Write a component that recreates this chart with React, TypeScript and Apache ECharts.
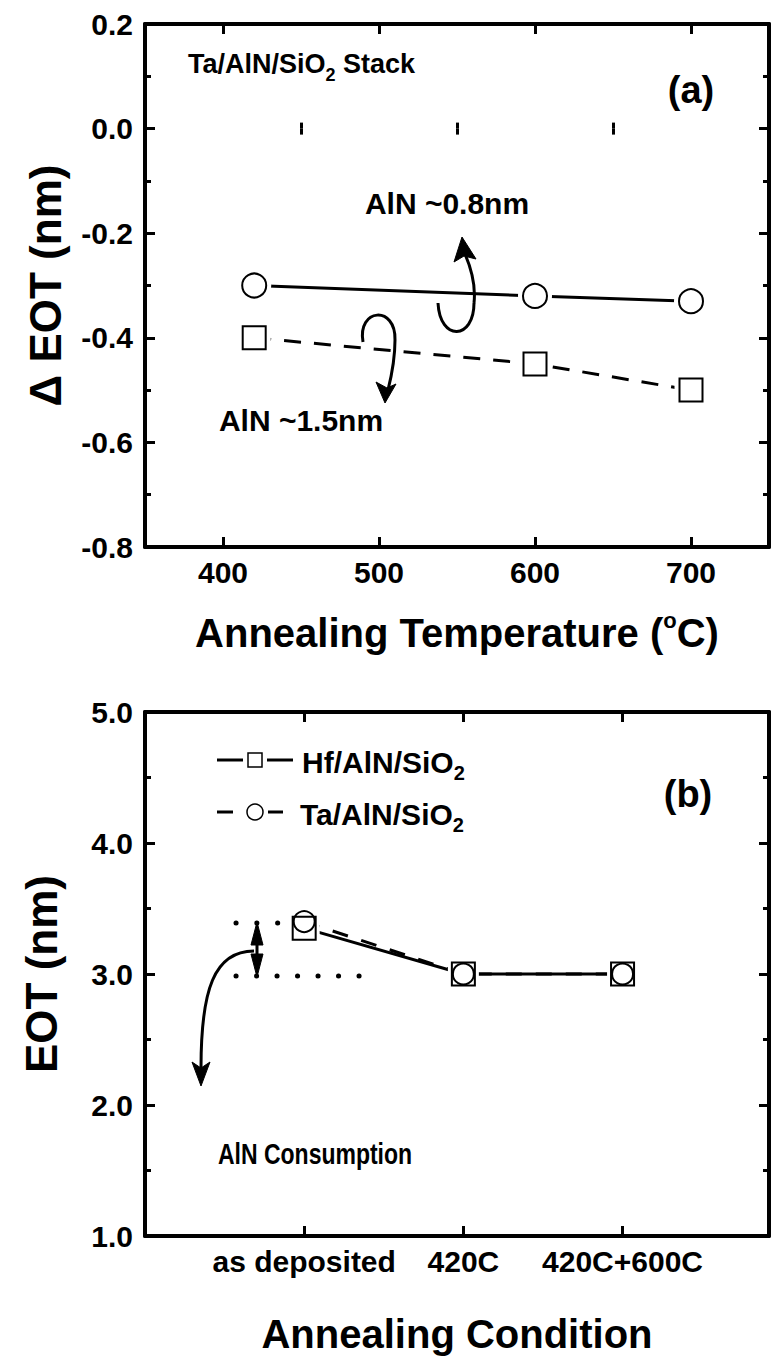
import React, { useEffect, useRef } from 'react';
import * as echarts from 'echarts';

// ---- Panel (a) data ----
const tempA = [420, 600, 700];
const dEot08 = [-0.3, -0.32, -0.33];
const dEot15 = [-0.4, -0.45, -0.5];
const tempMajorTicks = [400, 500, 600, 700];
const tempMinorTicks = [450, 550, 650];

// ---- Panel (b) data ----
const conditions = ['as deposited', '420C', '420C+600C'];
const conditionPos = [1, 2, 3];
const eotHf = [3.35, 3.0, 3.0];
const eotTa = [3.4, 3.0, 3.0];

const FONT = '"Liberation Sans", Arial, Helvetica, sans-serif';
const BLACK = '#000';

const subRich = {
  sub: { fontSize: 19, fontWeight: 'bold', fontFamily: FONT, color: BLACK, verticalAlign: 'bottom', lineHeight: 16 },
  sup: { fontSize: 22, fontWeight: 'bold', fontFamily: FONT, color: BLACK, verticalAlign: 'top', lineHeight: 18 },
};

function txt(text: string, x: number, y: number, size: number, align = 'left', scaleY = 1) {
  return {
    type: 'text',
    x,
    y,
    scaleY,
    z: 50,
    style: {
      text,
      fontSize: size,
      fontWeight: 'bold',
      fontFamily: FONT,
      fill: BLACK,
      lineHeight: size + 12,
      align,
      verticalAlign: 'middle',
      textAlign: align,
      textVerticalAlign: 'middle',
      rich: {
        sub: { ...subRich.sub, fill: BLACK, fontSize: Math.round(size * 0.65) },
      },
    },
  };
}

function curve(x1: number, y1: number, cpx1: number, cpy1: number, cpx2: number, cpy2: number, x2: number, y2: number) {
  return {
    type: 'bezierCurve',
    z: 50,
    shape: { x1, y1, cpx1, cpy1, cpx2, cpy2, x2, y2 },
    style: { stroke: BLACK, lineWidth: 3, fill: 'none' },
  };
}

function head(points: number[][]) {
  return { type: 'polygon', z: 50, shape: { points }, style: { fill: BLACK, stroke: BLACK, lineWidth: 1 } };
}

function seg(x1: number, y1: number, x2: number, y2: number, dash?: number[], w = 3, cap = 'butt') {
  return {
    type: 'line',
    z: 50,
    shape: { x1, y1, x2, y2 },
    style: { stroke: BLACK, lineWidth: w, lineDash: dash, lineCap: cap },
  };
}

const tickLabel = { fontSize: 30, fontWeight: 'bold', color: BLACK, fontFamily: FONT };
const axisLine = { show: true, onZero: false, lineStyle: { color: BLACK, width: 4 } };

function xAxes(gridIndex: number, min: number, max: number, major: number[], minor: number[] | null, labelFmt: any, name: string, nameGap: number) {
  const list: any[] = [
    {
      gridIndex, type: 'value', min, max, position: 'bottom',
      axisLine,
      axisTick: { show: true, inside: true, length: 10, customValues: major, lineStyle: { color: BLACK, width: 3 } },
      axisLabel: { ...tickLabel, margin: 10, customValues: major, formatter: labelFmt },
      splitLine: { show: false },
      name, nameLocation: 'middle', nameGap,
      nameTextStyle: { fontSize: 40, fontWeight: 'bold', color: BLACK, fontFamily: FONT, lineHeight: 48, rich: subRich },
    },
    {
      gridIndex, type: 'value', min, max, position: 'top',
      axisLine,
      axisTick: { show: true, inside: true, length: 10, customValues: major, lineStyle: { color: BLACK, width: 3 } },
      axisLabel: { show: false },
      splitLine: { show: false },
    },
  ];
  if (minor) {
    ['bottom', 'top'].forEach((position) => {
      list.push({
        gridIndex, type: 'value', min, max, position,
        axisLine: { show: false },
        axisTick: { show: true, inside: true, length: 6, customValues: minor, lineStyle: { color: BLACK, width: 3 } },
        axisLabel: { show: false },
        splitLine: { show: false },
      });
    });
  }
  return list;
}

function yAxes(gridIndex: number, min: number, max: number, interval: number, name: string, nameGap: number) {
  const common = {
    gridIndex, type: 'value', min, max, interval,
    axisLine,
    axisTick: { show: true, inside: true, length: 10, lineStyle: { color: BLACK, width: 3 } },
    minorTick: { show: true, splitNumber: 2, length: 6, lineStyle: { color: BLACK, width: 3 } },
    splitLine: { show: false },
    minorSplitLine: { show: false },
  };
  return [
    {
      ...common, position: 'left',
      axisLabel: {
        ...tickLabel, margin: 12,
        formatter: (v: number) => (Math.abs(v) < 1e-9 ? '0.0' : v.toFixed(1)),
      },
      name, nameLocation: 'middle', nameGap, nameRotate: 90,
      nameTextStyle: { fontSize: 44, fontWeight: 'bold', color: BLACK, fontFamily: FONT },
    },
    { ...common, position: 'right', axisLabel: { show: false } },
  ];
}

export default function App() {
  const ref = useRef<HTMLDivElement>(null);

  useEffect(() => {
    if (!ref.current) return;
    const chart = echarts.init(ref.current, null, { renderer: 'svg' });

    const xa = xAxes(0, 350, 750, tempMajorTicks, tempMinorTicks, (v: number) => String(v),
      'Annealing Temperature ({sup|o}C)', 62);
    const xb = xAxes(1, 0, 3.92, conditionPos, null,
      (v: number) => conditions[conditionPos.indexOf(v)] ?? '', 'Annealing Condition', 74);
    const xAxis = [...xa, ...xb];
    const xbIndex = xa.length;

    const yAxis = [
      ...yAxes(0, -0.8, 0.2, 0.2, 'Δ EOT (nm)', 78),
      ...yAxes(1, 1, 5, 1, 'EOT (nm)', 82),
    ];

    const blackLine = { color: BLACK, width: 3 };

    const graphic: any[] = [
      // panel (a) texts
      txt('Ta/AlN/SiO{sub|2} Stack', 188, 64, 27),
      txt('(a)', 691, 90, 38, 'center'),
      txt('AlN ~0.8nm', 447, 203, 30, 'center'),
      txt('AlN ~1.5nm', 301, 420, 30, 'center'),
      // upper curved arrow (0.8nm)
      curve(438, 303, 440, 342, 474, 340, 474, 303),
      curve(474, 303, 476, 285, 471, 268, 465, 254),
      head([[462, 237], [454, 262], [464, 256], [476, 259]]),
      // lower curved arrow (1.5nm)
      curve(363, 342, 357, 308, 396, 305, 395, 340),
      curve(395, 340, 395, 360, 391, 378, 388, 390),
      head([[385, 403], [376, 382], [387, 388], [396, 384]]),

      // panel (b) texts
      txt('(b)', 688, 794, 38, 'center'),
      txt('AlN Consumption', 218, 1154, 23, 'left', 1.3),
      // legend row 1 (Hf, solid, square)
      seg(217, 760, 243, 760),
      {
        type: 'rect', z: 50, shape: { x: 248, y: 753, width: 14, height: 14 },
        style: { fill: '#fff', stroke: BLACK, lineWidth: 1.5 },
      },
      seg(267, 760, 293, 760),
      txt('Hf/AlN/SiO{sub|2}', 302, 762, 30),
      // legend row 2 (Ta, dashed, circle)
      seg(217, 812, 233, 812),
      { type: 'circle', z: 50, shape: { cx: 255, cy: 812, r: 8 }, style: { fill: '#fff', stroke: BLACK, lineWidth: 1.5 } },
      seg(268, 812, 283, 812),
      txt('Ta/AlN/SiO{sub|2}', 300, 814, 30),
      // dotted reference lines
      seg(236, 923, 282, 923, [0.1, 20.7], 5, 'round'),
      seg(236, 976, 362, 976, [0.1, 20.4], 5, 'round'),
      // double arrow
      seg(257, 938, 257, 961, undefined, 3),
      head([[257, 922], [251, 945], [263, 945]]),
      head([[257, 977], [251, 954], [263, 954]]),
      // curved arrow to text
      curve(254, 951, 214, 951, 201, 990, 201, 1068),
      head([[201, 1086], [192, 1062], [201, 1068], [210, 1062]]),
    ];

    const pairsA08 = tempA.map((t, i) => [t, dEot08[i]]);
    const pairsA15 = tempA.map((t, i) => [t, dEot15[i]]);
    const pairsHf = conditionPos.map((p, i) => [p, eotHf[i]]);
    const pairsTa = conditionPos.map((p, i) => [p, eotTa[i]]);

    const halo = (data: number[][], xi: number, yi: number, symbol: string, size: number) => ({
      type: 'scatter', xAxisIndex: xi, yAxisIndex: yi, z: 2, silent: true,
      data, symbol, symbolSize: size,
      itemStyle: { color: '#fff', borderWidth: 0, opacity: 1 },
    });

    const marker = (name: string, data: number[][], xi: number, yi: number, symbol: string, size: number, fill: string, z: number) => ({
      name, type: 'scatter', xAxisIndex: xi, yAxisIndex: yi, z,
      data, symbol, symbolSize: size,
      itemStyle: { color: fill, borderColor: BLACK, borderWidth: 2, opacity: 1 },
    });

    chart.setOption({
      animation: false,
      backgroundColor: '#fff',
      textStyle: { fontFamily: FONT },
      grid: [
        { left: 145, top: 24, width: 624, height: 523 },
        { left: 145, top: 712, width: 624, height: 528 },
      ],
      xAxis,
      yAxis,
      series: [
        // panel (a)
        {
          name: 'AlN ~0.8nm', type: 'line', xAxisIndex: 0, yAxisIndex: 0, z: 1,
          data: pairsA08, symbol: 'none', lineStyle: blackLine,
        },
        {
          name: 'AlN ~1.5nm', type: 'line', xAxisIndex: 0, yAxisIndex: 0, z: 1,
          data: pairsA15, symbol: 'none', lineStyle: { ...blackLine, type: [17, 13] },
        },
        halo(pairsA08, 0, 0, 'circle', 34),
        halo(pairsA15, 0, 0, 'rect', 33),
        marker('AlN ~0.8nm markers', pairsA08, 0, 0, 'circle', 24, '#fff', 3),
        marker('AlN ~1.5nm markers', pairsA15, 0, 0, 'rect', 23, '#fff', 3),
        // panel (b)
        {
          name: 'Ta/AlN/SiO2 line', type: 'line', xAxisIndex: xbIndex, yAxisIndex: 2, z: 1,
          data: pairsTa, symbol: 'none', lineStyle: { ...blackLine, type: [16, 14] },
        },
        {
          name: 'Hf/AlN/SiO2 line', type: 'line', xAxisIndex: xbIndex, yAxisIndex: 2, z: 1,
          data: pairsHf, symbol: 'none', lineStyle: blackLine,
        },
        halo(pairsHf, xbIndex, 2, 'rect', 31),
        halo(pairsTa, xbIndex, 2, 'circle', 29),
        marker('Hf/AlN/SiO2', pairsHf, xbIndex, 2, 'rect', 23, '#fff', 3),
        marker('Ta/AlN/SiO2', pairsTa, xbIndex, 2, 'circle', 21, 'rgba(0,0,0,0)', 4),
      ],
      graphic,
    });

    return () => chart.dispose();
  }, []);

  return (
    <div
      ref={ref}
      style={{ position: 'absolute', left: 0, top: 0, width: 772, height: 1359, background: '#fff' }}
    />
  );
}
